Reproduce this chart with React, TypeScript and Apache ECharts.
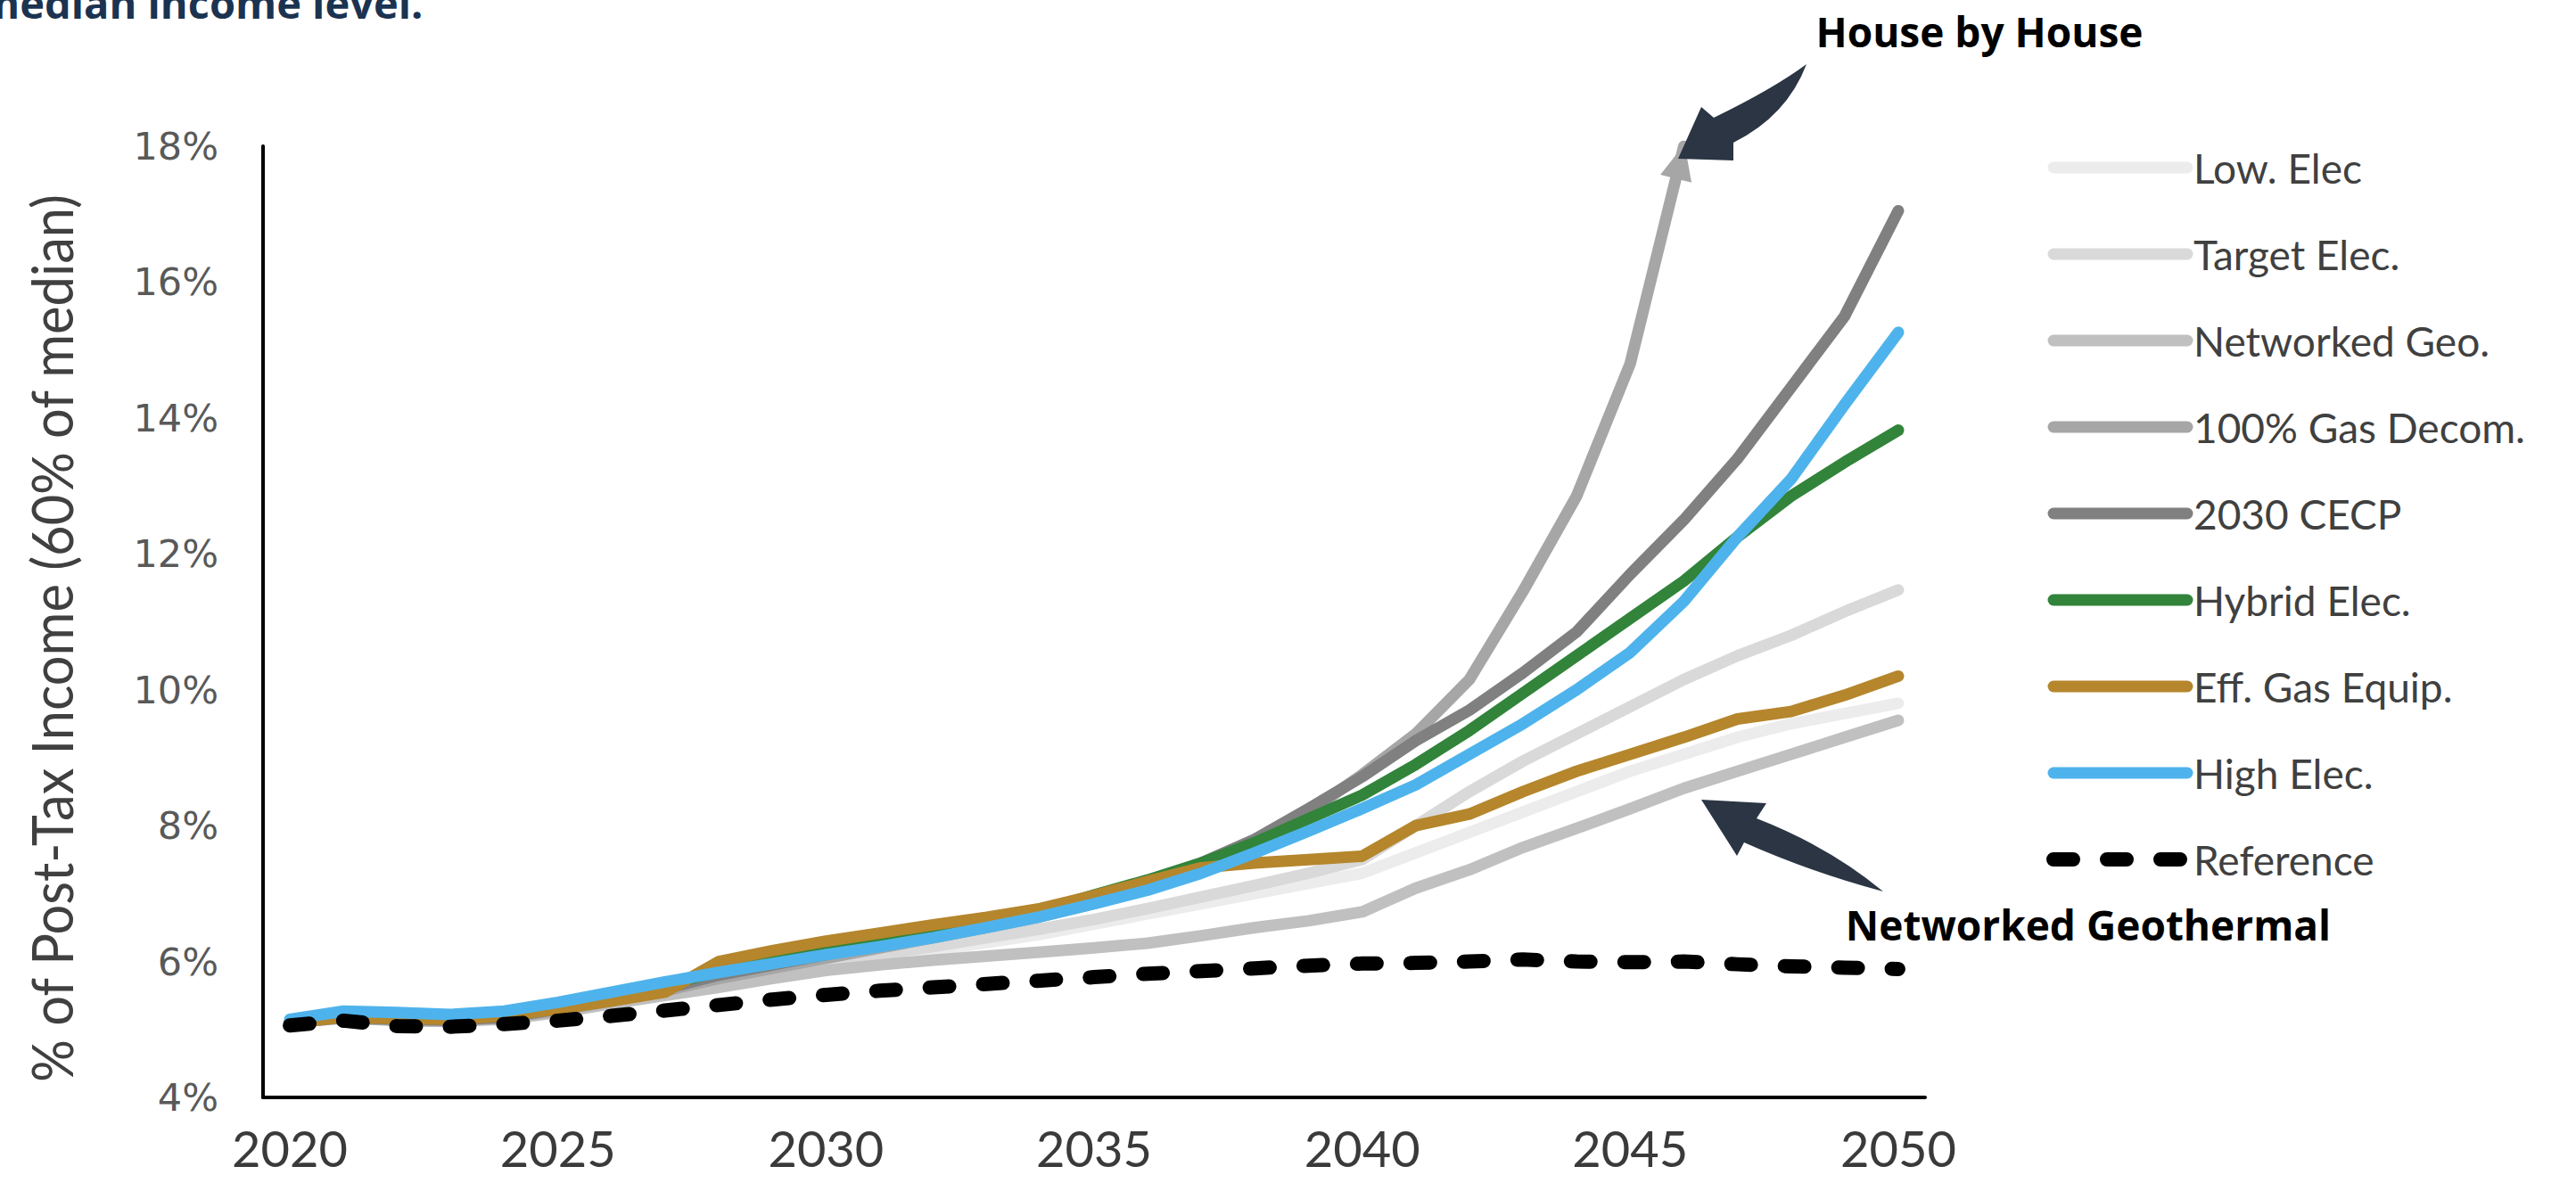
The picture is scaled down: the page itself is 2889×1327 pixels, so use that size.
import React, { useEffect, useRef } from "react";
import * as echarts from "echarts";

const years = [
  "2020", "2021", "2022", "2023", "2024", "2025", "2026", "2027", "2028", "2029",
  "2030", "2031", "2032", "2033", "2034", "2035", "2036", "2037", "2038", "2039",
  "2040", "2041", "2042", "2043", "2044", "2045", "2046", "2047", "2048", "2049", "2050",
];

const lowElec = [5.1, 5.17, 5.14, 5.13, 5.16, 5.27, 5.4, 5.53, 5.66, 5.8, 5.92, 6.04, 6.16, 6.28, 6.4, 6.55, 6.7, 6.85, 7.0, 7.15, 7.3, 7.6, 7.9, 8.2, 8.5, 8.8, 9.05, 9.3, 9.5, 9.65, 9.8];
const targetElec = [5.1, 5.17, 5.14, 5.13, 5.17, 5.28, 5.42, 5.56, 5.7, 5.84, 5.97, 6.1, 6.22, 6.35, 6.48, 6.62, 6.78, 6.95, 7.12, 7.3, 7.5, 8.0, 8.5, 8.95, 9.35, 9.75, 10.15, 10.5, 10.8, 11.15, 11.47];
const networkedGeo = [5.1, 5.17, 5.13, 5.12, 5.15, 5.25, 5.38, 5.5, 5.62, 5.75, 5.87, 5.95, 6.02, 6.08, 6.14, 6.2, 6.27, 6.38, 6.5, 6.6, 6.73, 7.08, 7.35, 7.68, 7.96, 8.25, 8.55, 8.8, 9.05, 9.3, 9.55];
const gasDecom = [5.1, 5.17, 5.14, 5.13, 5.17, 5.28, 5.42, 5.57, 5.75, 5.9, 6.05, 6.2, 6.35, 6.5, 6.66, 6.85, 7.08, 7.35, 7.7, 8.2, 8.75, 9.35, 10.15, 11.45, 12.85, 14.8, 18, null, null, null, null];
const cecp2030 = [5.1, 5.18, 5.15, 5.14, 5.18, 5.3, 5.45, 5.6, 5.8, 5.95, 6.1, 6.25, 6.4, 6.55, 6.72, 6.93, 7.18, 7.45, 7.8, 8.25, 8.72, 9.25, 9.7, 10.25, 10.85, 11.7, 12.5, 13.4, 14.45, 15.5, 17.05];
const hybridElec = [5.12, 5.2, 5.18, 5.17, 5.2, 5.33, 5.48, 5.65, 5.86, 6.0, 6.15, 6.28, 6.42, 6.56, 6.75, 6.98, 7.2, 7.45, 7.75, 8.1, 8.45, 8.9, 9.4, 9.95, 10.5, 11.05, 11.6, 12.25, 12.85, 13.35, 13.82];
const effGas = [5.1, 5.18, 5.16, 5.15, 5.2, 5.3, 5.42, 5.55, 6.0, 6.16, 6.3, 6.42, 6.54, 6.65, 6.78, 6.97, 7.18, 7.38, 7.45, 7.5, 7.55, 8.0, 8.17, 8.5, 8.8, 9.05, 9.3, 9.57, 9.68, 9.92, 10.2];
const highElec = [5.15, 5.27, 5.25, 5.22, 5.27, 5.4, 5.55, 5.7, 5.84, 5.97, 6.1, 6.22, 6.35, 6.5, 6.66, 6.85, 7.05, 7.3, 7.6, 7.92, 8.25, 8.6, 9.05, 9.5, 10.0, 10.55, 11.3, 12.25, 13.1, 14.2, 15.26];
const reference = [5.06, 5.13, 5.05, 5.04, 5.08, 5.13, 5.2, 5.28, 5.36, 5.44, 5.51, 5.57, 5.62, 5.67, 5.72, 5.77, 5.82, 5.86, 5.9, 5.94, 5.97, 5.98, 6.0, 6.03, 6.0, 5.99, 6.0, 5.96, 5.93, 5.91, 5.89];

const seriesNames = [
  "Low. Elec", "Target Elec.", "Networked Geo.", "100% Gas Decom.", "2030 CECP",
  "Hybrid Elec.", "Eff. Gas Equip.", "High Elec.", "Reference",
];
const seriesColors = ["#ececec", "#d9d9d9", "#c0c0c0", "#a6a6a6", "#808080", "#31843a", "#b5862c", "#4eb3ec", "#000000"];
const seriesValues = [lowElec, targetElec, networkedGeo, gasDecom, cecp2030, hybridElec, effGas, highElec, reference];

const yMin = 4;
const yMax = 18;
const yStep = 2;

const titleFragment = "median income level.";
const yAxisTitle = "% of Post-Tax Income (60% of median)";
const annotationTop = "House by House";
const annotationBottom = "Networked Geothermal";

const arrowTopPath = "M 1882 178 L 1908 120 L 1922 132 Q 1988 100 2026 72 Q 2004 130 1944 160 L 1944 180 Z";
const arrowBottomPath = "M 1908 897 L 1981 901 L 1970 918 Q 2052 950 2112 1000 Q 2030 978 1956 945 L 1948 960 Z";

let registered = false;
function registerShapes() {
  if (registered) return;
  registered = true;
  echarts.graphic.registerShape("arrowTop", echarts.graphic.extendPath(arrowTopPath, {}));
  echarts.graphic.registerShape("arrowBottom", echarts.graphic.extendPath(arrowBottomPath, {}));
}

export default function App() {
  const ref = useRef<HTMLDivElement>(null);

  useEffect(() => {
    if (!ref.current) return;
    registerShapes();
    const chart = echarts.init(ref.current, null, { renderer: "svg" });

    const series: any[] = seriesNames.map((name, i) => {
      const isRef = name === "Reference";
      const s: any = {
        name,
        type: "line",
        data: seriesValues[i],
        symbol: "none",
        showSymbol: false,
        connectNulls: false,
        z: 2 + i,
        lineStyle: {
          color: seriesColors[i],
          width: isRef ? 16 : 13,
          type: isRef ? [22, 38] : "solid",
          cap: "round",
          join: "round",
        },
        itemStyle: { color: seriesColors[i] },
        emphasis: { disabled: true },
      };
      if (name === "100% Gas Decom.") {
        s.markPoint = {
          silent: true,
          symbol: "triangle",
          symbolSize: [36, 40],
          symbolRotate: -14,
          symbolOffset: [-4, 17],
          itemStyle: { color: seriesColors[i] },
          label: { show: false },
          data: [{ coord: ["2046", 18] }],
        };
      }
      return s;
    });

    const legendData = seriesNames.map((name) => ({
      name,
      lineStyle: {
        width: name === "Reference" ? 16 : 13,
        cap: "round",
      },
    }));

    chart.setOption({
      animation: false,
      backgroundColor: "#ffffff",
      grid: { left: 295, top: 164, width: 1864, height: 1067, containLabel: false },
      legend: {
        orient: "vertical",
        left: 2290,
        top: 160,
        itemWidth: 150,
        itemHeight: 14,
        itemGap: 51,
        selectedMode: false,
        itemStyle: { opacity: 0 },
        textStyle: {
          fontFamily: "Lato",
          fontSize: 46,
          color: "#404040",
          padding: [0, 0, 0, 2],
        },
        data: legendData,
      },
      xAxis: {
        type: "category",
        data: years,
        boundaryGap: true,
        axisLine: { show: true, lineStyle: { color: "#000000", width: 4 } },
        axisTick: { show: false },
        axisLabel: {
          interval: 4,
          margin: 28,
          fontFamily: "Lato",
          fontSize: 56,
          color: "#3a3a3a",
        },
        splitLine: { show: false },
      },
      yAxis: {
        type: "value",
        min: yMin,
        max: yMax,
        interval: yStep,
        axisLine: { show: true, lineStyle: { color: "#000000", width: 4 } },
        axisTick: { show: false },
        splitLine: { show: false },
        axisLabel: {
          formatter: "{value}%",
          margin: 50,
          fontFamily: "DejaVu Sans",
          fontSize: 43,
          color: "#595959",
        },
      },
      series,
      graphic: [
        {
          type: "text",
          x: -24,
          y: 26,
          style: {
            text: titleFragment,
            fontFamily: "Open Sans",
            fontWeight: "bold",
            fontSize: 47,
            fill: "#1b3350",
            verticalAlign: "bottom",
          },
        },
        {
          type: "text",
          x: 57,
          y: 716,
          rotation: Math.PI / 2,
          scaleX: 0.93,
          style: {
            text: yAxisTitle,
            fontFamily: "Lato",
            fontSize: 64,
            fill: "#404040",
            align: "center",
            verticalAlign: "middle",
          },
        },
        {
          type: "text",
          x: 2220,
          y: 35,
          style: {
            text: annotationTop,
            fontFamily: "Open Sans",
            fontWeight: "bold",
            fontSize: 46,
            fill: "#000000",
            align: "center",
            verticalAlign: "middle",
          },
        },
        {
          type: "text",
          x: 2342,
          y: 1037,
          style: {
            text: annotationBottom,
            fontFamily: "Open Sans",
            fontWeight: "bold",
            fontSize: 46,
            fill: "#000000",
            align: "center",
            verticalAlign: "middle",
          },
        },
        { type: "arrowTop", x: 0, y: 0, style: { fill: "#2b3543" }, z: 100 },
        { type: "arrowBottom", x: 0, y: 0, style: { fill: "#2b3543" }, z: 100 },
      ],
    });

    return () => chart.dispose();
  }, []);

  return (
    <div
      ref={ref}
      style={{ position: "absolute", left: 0, top: 0, width: 2889, height: 1327 }}
    />
  );
}
